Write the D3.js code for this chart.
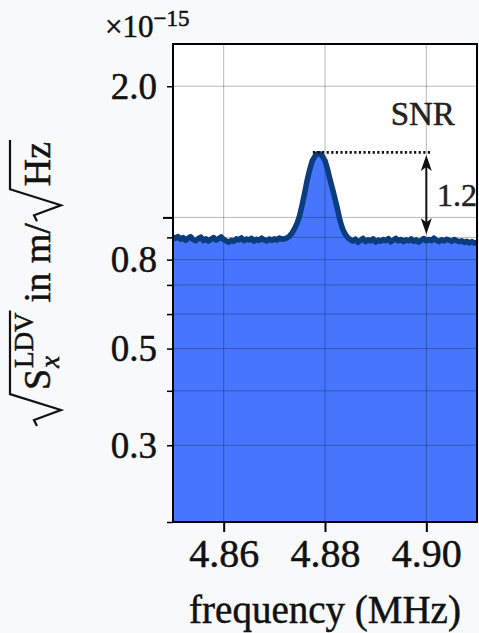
<!DOCTYPE html>
<html>
<head>
<meta charset="utf-8">
<script src="https://cdn.jsdelivr.net/npm/d3@7"></script>
<style>
    body { margin: 0; background: #f8f9fb; }
    text { font-family: "Liberation Serif", "Times New Roman", serif; fill: #111; stroke: #111; stroke-width: 0.5px; }
</style>
</head>
<body>
<div id="chart"></div>
<script>
// frequency grid (MHz) of the measured spectrum
const freqStart = 4.85, freqStep = 0.0005;

// amplitude spectral density, units of 1e-15 m/sqrt(Hz)
const asdLeft = [
    0.902, 0.895, 0.904, 0.891, 0.899, 0.886, 0.896, 0.903, 0.889, 0.884,
    0.895, 0.901, 0.885, 0.893, 0.882, 0.891, 0.899, 0.887, 0.894, 0.902,
    0.890, 0.883, 0.877, 0.886, 0.881, 0.893, 0.888, 0.897, 0.884, 0.892,
    0.887, 0.895, 0.882, 0.891, 0.885, 0.896, 0.888, 0.883, 0.892, 0.886,
    0.893, 0.887, 0.897, 0.891
];
const asdPeak = [
    0.893, 0.897, 0.906, 0.921, 0.942, 0.970, 1.01, 1.07, 1.14, 1.22,
    1.29, 1.35, 1.38, 1.40, 1.40, 1.38, 1.35, 1.29, 1.22, 1.16,
    1.10, 1.04, 0.98, 0.940, 0.915, 0.898, 0.889
];
const asdRight = [
    0.882, 0.891, 0.877, 0.886, 0.895, 0.880, 0.889, 0.883, 0.893, 0.878,
    0.887, 0.882, 0.890, 0.884, 0.894, 0.879, 0.887, 0.895, 0.883, 0.890,
    0.880, 0.889, 0.884, 0.893, 0.881, 0.888, 0.878, 0.886, 0.894, 0.883,
    0.890, 0.884, 0.896, 0.886, 0.880, 0.889, 0.883, 0.891, 0.887, 0.881,
    0.890, 0.884, 0.879, 0.884, 0.876, 0.882, 0.874, 0.880, 0.873, 0.877
];

const xDomain = [4.85, 4.91];
const yDomain = [0.2, 2.5];
const xTicks = [4.86, 4.88, 4.90];
const yMajorTicks = [1.0];
const yMinorTicks = [0.2, 0.3, 0.4, 0.5, 0.6, 0.7, 0.8, 0.9, 2.0];
const yLabelled = [2.0, 0.8, 0.5, 0.3];

// SNR annotation
const snrLevel = 1.41;              // dotted reference level
const snrDotted = [4.8776, 4.9011]; // extent of dotted line
const snrArrow = {f: 4.90, top: 1.39, bottom: 0.915};
const snrValue = "1.2";

const asd = asdLeft.concat(asdPeak, asdRight);
const data = asd.map((v, i) => ({f: freqStart + i * freqStep, v: v}));

const W = 479, H = 633;
const margin = {top: 44, right: 2, bottom: 111, left: 173};
const width = W - margin.left - margin.right,
      height = H - margin.top - margin.bottom;

const svg = d3.select("#chart").append("svg")
    .attr("width", W)
    .attr("height", H);

const g = svg.append("g")
    .attr("transform", `translate(${margin.left},${margin.top})`);

const x = d3.scaleLinear().domain(xDomain).range([0, width]);
const y = d3.scaleLog().domain(yDomain).range([height, 0]);

g.append("rect")
    .attr("width", width)
    .attr("height", height)
    .attr("fill", "white");

g.append("defs").append("clipPath").attr("id", "clip")
    .append("rect").attr("width", width).attr("height", height);

const plot = g.append("g").attr("clip-path", "url(#clip)");

// filled spectrum
plot.append("path")
    .datum(data)
    .attr("fill", "#4676fd")
    .attr("d", d3.area().x(d => x(d.f)).y0(height).y1(d => y(d.v)));

// grid
const allY = yMajorTicks.concat(yMinorTicks);
plot.selectAll(".gy").data(allY).enter().append("line")
    .attr("x1", 0).attr("x2", width)
    .attr("y1", d => y(d)).attr("y2", d => y(d))
    .attr("stroke", "#000").attr("stroke-opacity", 0.28).attr("stroke-width", 1);
plot.selectAll(".gx").data(xTicks).enter().append("line")
    .attr("y1", 0).attr("y2", height)
    .attr("x1", d => x(d)).attr("x2", d => x(d))
    .attr("stroke", "#000").attr("stroke-opacity", 0.28).attr("stroke-width", 1);

// spectrum line
plot.append("path")
    .datum(data)
    .attr("fill", "none")
    .attr("stroke", "#0b3c7e")
    .attr("stroke-width", 5.5)
    .attr("stroke-linejoin", "round")
    .attr("d", d3.line().x(d => x(d.f)).y(d => y(d.v)));

// SNR annotation
g.append("line")
    .attr("x1", x(snrDotted[0])).attr("x2", x(snrDotted[1]))
    .attr("y1", y(snrLevel)).attr("y2", y(snrLevel))
    .attr("stroke", "#111").attr("stroke-width", 2.6)
    .attr("stroke-dasharray", "2.2,2.4");

const ax = x(snrArrow.f), aTop = y(snrArrow.top), aBot = y(snrArrow.bottom);
g.append("line")
    .attr("x1", ax).attr("x2", ax)
    .attr("y1", aTop + 8).attr("y2", aBot - 8)
    .attr("stroke", "#111").attr("stroke-width", 2);
g.append("path")
    .attr("d", `M${ax},${aTop} L${ax - 5.5},${aTop + 16} L${ax},${aTop + 12} L${ax + 5.5},${aTop + 16} Z`)
    .attr("fill", "#111");
g.append("path")
    .attr("d", `M${ax},${aBot} L${ax - 5.5},${aBot - 16} L${ax},${aBot - 12} L${ax + 5.5},${aBot - 16} Z`)
    .attr("fill", "#111");

g.append("text")
    .attr("x", x(4.8993)).attr("y", y(1.63))
    .attr("text-anchor", "middle")
    .style("font-size", "33px")
    .style("fill", "#222").style("stroke", "#222")
    .text("SNR");

g.append("text")
    .attr("x", x(4.9021)).attr("y", y(1.06))
    .style("font-size", "32px")
    .style("fill", "#222").style("stroke", "#222")
    .text(snrValue);

// frame
g.append("rect")
    .attr("width", width).attr("height", height)
    .attr("fill", "none").attr("stroke", "#000").attr("stroke-width", 2);

// x axis
const xAxis = g.append("g")
    .attr("transform", `translate(0,${height})`)
    .call(d3.axisBottom(x).tickValues(xTicks).tickFormat(d3.format(".2f")).tickSize(10).tickPadding(6));
xAxis.select(".domain").remove();
xAxis.selectAll("line").attr("stroke", "#000").attr("stroke-width", 2);
xAxis.selectAll("text").style("font-size", "40px").attr("dy", "0.72em").attr("fill", "#111");

// y axis: minor ticks (some labelled) and major tick at 1.0
const yAxisMinor = g.append("g")
    .call(d3.axisLeft(y).tickValues(yMinorTicks)
        .tickFormat(d => yLabelled.includes(d) ? d3.format(".1f")(d) : "")
        .tickSize(6).tickPadding(10));
yAxisMinor.select(".domain").remove();
yAxisMinor.selectAll("line").attr("stroke", "#000").attr("stroke-width", 1.5);
yAxisMinor.selectAll("text").style("font-size", "37px").attr("dy", "0.33em").attr("fill", "#111");

const yAxisMajor = g.append("g")
    .call(d3.axisLeft(y).tickValues(yMajorTicks).tickFormat("").tickSize(10));
yAxisMajor.select(".domain").remove();
yAxisMajor.selectAll("line").attr("stroke", "#000").attr("stroke-width", 2);

// offset text
const off = svg.append("text").attr("x", 105).attr("y", 37).style("font-size", "31px");
off.append("tspan").text("×10");
off.append("tspan").attr("dy", -11).style("font-size", "23px").text("−15");

// x label
svg.append("text")
    .attr("x", margin.left + width / 2)
    .attr("y", 623)
    .attr("text-anchor", "middle")
    .style("font-size", "39px")
    .text("frequency (MHz)");

// y label: sqrt(S_x^LDV) in m/sqrt(Hz)
const yl = svg.append("g").attr("transform", "translate(50,283) rotate(-90)");
const lab = yl.append("g");
const fs = 38;
let u = 0;
function radical(u0, end) {
    lab.append("path")
        .attr("d", `M${u0},-13 L${u0 + 6},-16 L${u0 + 16},11 L${u0 + 32},-40 L${end},-40`)
        .attr("fill", "none").attr("stroke", "#111").attr("stroke-width", 2.2)
        .attr("stroke-linejoin", "miter");
}
function txt(str, uu, v, size, italic) {
    const t = lab.append("text").attr("x", uu).attr("y", v)
        .style("font-size", size + "px")
        .style("font-style", italic ? "italic" : "normal")
        .text(str);
    return t.node().getComputedTextLength();
}
const r1 = u;
u += 36;
u += txt("S", u, 0, fs, false);
const wSup = txt("LDV", u + 1, -17, 27, false);
const wSub = txt("x", u + 1, 9, 27, true);
u += Math.max(wSup, wSub) + 3;
radical(r1, u);
u += 8;
u += txt("in m/", u, 0, fs, false) + 2;
const r2 = u;
u += 35;
u += txt("Hz", u, 0, fs, false) + 2;
radical(r2, u);
lab.attr("transform", `translate(${-u / 2},0)`);
</script>
</body>
</html>
